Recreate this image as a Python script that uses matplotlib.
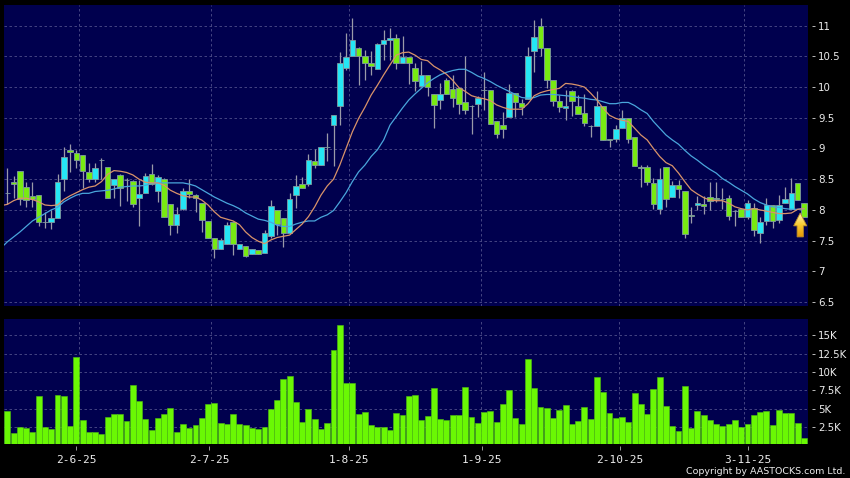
import numpy as np
import matplotlib
matplotlib.use("Agg")
import matplotlib.pyplot as plt
from matplotlib.patches import Polygon

# --- data ---
opens = [8.28, 8.45, 8.64, 8.37, 8.22, 8.25, 7.81, 7.81, 7.87, 8.50,
         8.98, 8.93, 8.90, 8.62, 8.50, 8.81, 8.70, 8.40, 8.57, 8.49,
         8.47, 8.19, 8.28, 8.58, 8.30, 8.50, 8.09, 7.75, 8.02, 8.31,
         8.24, 8.11, 7.82, 7.55, 7.37, 7.45, 7.80, 7.36, 7.42, 7.28,
         7.35, 7.30, 7.575, 8.00, 7.87, 7.63, 8.25, 8.43, 8.43, 8.80,
         8.73, 9.03, 9.39, 9.70, 10.31, 10.51, 10.63, 10.50, 10.39, 10.30,
         10.70, 10.76, 10.80, 10.39, 10.49, 10.31, 10.01, 10.19, 9.88, 9.79,
         10.11, 9.97, 9.99, 9.75, 9.70, 9.73, 9.95, 9.95, 9.44, 9.39,
         9.52, 9.90, 9.74, 9.81, 10.58, 11.00, 10.63, 10.11, 9.77, 9.66,
         9.94, 9.70, 9.57, 9.36, 9.36, 9.70, 9.15, 9.15, 9.33, 9.50,
         9.19, 8.70, 8.70, 8.44, 8.01, 8.70, 8.21, 8.41, 8.30, 7.92,
         8.08, 8.10, 8.21, 8.19, 8.18, 8.20, 7.98, 8.01, 7.88, 8.03,
         7.63, 7.82, 8.08, 7.83, 8.12, 8.01, 8.44, 8.12]
closes = [8.28, 8.43, 8.18, 8.16, 8.18, 7.81, 7.81, 7.86, 8.45, 8.86,
          8.94, 8.82, 8.63, 8.51, 8.69, 8.81, 8.20, 8.50, 8.35, 8.48,
          8.10, 8.26, 8.55, 8.43, 8.54, 7.89, 7.75, 7.94, 8.30, 8.26,
          8.19, 7.83, 7.54, 7.36, 7.51, 7.76, 7.45, 7.45, 7.25, 7.36,
          7.28, 7.63, 8.07, 7.77, 7.63, 8.18, 8.39, 8.35, 8.82, 8.73,
          9.03, 9.03, 9.54, 10.39, 10.49, 10.76, 10.51, 10.40, 10.34, 10.70,
          10.76, 10.80, 10.39, 10.49, 10.40, 10.10, 10.19, 10.00, 9.71, 9.88,
          9.89, 9.83, 9.72, 9.62, 9.69, 9.82, 9.95, 9.40, 9.23, 9.31,
          9.90, 9.76, 9.68, 10.50, 10.82, 10.63, 10.12, 9.77, 9.68, 9.69,
          9.77, 9.57, 9.42, 9.36, 9.70, 9.14, 9.14, 9.32, 9.49, 9.15,
          8.72, 8.69, 8.45, 8.09, 8.51, 8.17, 8.41, 8.34, 7.60, 7.90,
          8.11, 8.06, 8.14, 8.17, 8.17, 7.90, 7.98, 7.88, 8.11, 7.67,
          7.80, 8.08, 7.82, 8.08, 8.17, 8.27, 8.16, 7.89]
highs = [8.68, 8.55, 8.64, 8.46, 8.45, 8.25, 7.97, 8.00, 8.59, 9.03,
         9.08, 8.97, 8.90, 8.76, 8.76, 8.84, 8.70, 8.50, 8.58, 8.52,
         8.48, 8.49, 8.60, 8.74, 8.57, 8.52, 8.09, 8.05, 8.35, 8.51,
         8.26, 8.11, 7.82, 7.55, 7.55, 7.80, 7.80, 7.45, 7.42, 7.36,
         7.35, 7.67, 8.16, 8.00, 7.87, 8.27, 8.57, 8.53, 8.91, 9.00,
         9.03, 9.26, 9.54, 10.57, 10.88, 11.12, 10.66, 10.60, 10.58, 10.71,
         10.93, 10.96, 10.87, 10.83, 10.49, 10.39, 10.42, 10.19, 9.88, 10.06,
         10.14, 10.20, 9.99, 10.50, 9.71, 9.86, 10.24, 9.95, 9.44, 9.60,
         10.05, 9.90, 9.80, 10.65, 11.09, 11.12, 10.63, 10.11, 9.87, 9.95,
         9.95, 9.87, 9.88, 9.38, 9.94, 9.70, 9.16, 9.38, 9.63, 9.50,
         9.19, 8.73, 8.73, 8.52, 8.68, 8.70, 8.47, 8.48, 8.30, 8.05,
         8.22, 8.22, 8.45, 8.45, 8.35, 8.24, 8.00, 8.01, 8.16, 8.11,
         7.89, 8.19, 8.08, 8.24, 8.38, 8.52, 8.44, 8.12]
lows = [8.10, 8.20, 8.08, 8.05, 8.05, 7.73, 7.70, 7.69, 7.87, 8.30,
        8.62, 8.68, 8.35, 8.46, 8.46, 8.51, 8.20, 8.20, 8.06, 8.15,
        8.04, 7.74, 8.28, 8.40, 8.13, 7.89, 7.59, 7.62, 8.00, 8.19,
        7.97, 7.64, 7.54, 7.21, 7.37, 7.45, 7.26, 7.36, 7.24, 7.28,
        7.28, 7.30, 7.54, 7.59, 7.40, 7.63, 8.03, 8.35, 8.39, 8.68,
        8.73, 8.80, 8.72, 9.38, 10.28, 10.51, 10.03, 10.12, 10.20, 10.30,
        10.44, 10.44, 10.30, 10.39, 10.05, 9.93, 10.01, 9.85, 9.34, 9.64,
        9.89, 9.67, 9.57, 9.57, 9.23, 9.52, 9.63, 9.40, 9.17, 9.17,
        9.52, 9.51, 9.55, 9.81, 10.25, 10.50, 9.98, 9.69, 9.60, 9.46,
        9.53, 9.57, 9.36, 9.19, 9.36, 9.14, 9.03, 9.10, 9.33, 9.09,
        8.72, 8.37, 8.41, 8.01, 7.94, 8.05, 8.21, 8.19, 7.54, 7.79,
        8.00, 7.93, 8.00, 8.13, 8.01, 7.84, 7.74, 7.88, 7.85, 7.57,
        7.46, 7.76, 7.71, 7.78, 8.12, 8.01, 8.16, 7.89]
# moving averages, first value sits at the left edge of the plot
ma_short = [8.08, 8.09, 8.15, 8.19, 8.19, 8.17, 8.13, 8.08, 8.07, 8.08, 8.17,
            8.23, 8.28, 8.33, 8.37, 8.39, 8.46, 8.58, 8.64, 8.63, 8.61,
            8.57, 8.50, 8.45, 8.44, 8.44, 8.40, 8.32, 8.27, 8.23, 8.21,
            8.21, 8.16, 8.08, 7.97, 7.88, 7.85, 7.82, 7.76, 7.64, 7.55,
            7.49, 7.45, 7.51, 7.55, 7.57, 7.59, 7.68, 7.77, 7.89, 8.05,
            8.24, 8.39, 8.50, 8.73, 9.00, 9.27, 9.49, 9.67, 9.87, 10.03,
            10.20, 10.36, 10.52, 10.56, 10.57, 10.52, 10.45, 10.43, 10.34, 10.28,
            10.21, 10.11, 9.99, 9.93, 9.86, 9.83, 9.81, 9.78, 9.71, 9.67,
            9.64, 9.64, 9.64, 9.73, 9.86, 9.91, 9.94, 9.96, 9.98, 10.06,
            10.05, 10.03, 10.00, 9.90, 9.79, 9.65, 9.54, 9.49, 9.46, 9.44,
            9.33, 9.22, 9.14, 9.00, 8.87, 8.77, 8.72, 8.60, 8.46, 8.33,
            8.26, 8.20, 8.16, 8.15, 8.15, 8.11, 8.05, 8.02, 8.00, 8.02,
            8.00, 7.98, 7.96, 7.94, 7.94, 7.95, 8.01, 8.02]
ma_long = [7.43, 7.48, 7.56, 7.64, 7.73, 7.82, 7.88, 7.94, 8.00, 8.04, 8.13,
           8.19, 8.24, 8.27, 8.27, 8.30, 8.31, 8.32, 8.34, 8.37, 8.38,
           8.39, 8.39, 8.40, 8.43, 8.44, 8.44, 8.44, 8.44, 8.44, 8.42,
           8.39, 8.33, 8.27, 8.21, 8.16, 8.11, 8.07, 8.02, 7.95, 7.90,
           7.85, 7.83, 7.80, 7.75, 7.73, 7.73, 7.77, 7.80, 7.82, 7.82,
           7.88, 7.92, 7.99, 8.13, 8.28, 8.46, 8.62, 8.73, 8.87, 8.98,
           9.14, 9.38, 9.52, 9.66, 9.79, 9.89, 9.98, 10.07, 10.14, 10.20,
           10.24, 10.27, 10.29, 10.29, 10.24, 10.18, 10.14, 10.09, 10.03, 9.98,
           9.93, 9.88, 9.83, 9.82, 9.83, 9.87, 9.88, 9.88, 9.87, 9.86,
           9.85, 9.83, 9.82, 9.80, 9.79, 9.76, 9.73, 9.73, 9.75, 9.75,
           9.70, 9.63, 9.57, 9.44, 9.33, 9.22, 9.14, 9.07, 8.97, 8.88,
           8.81, 8.73, 8.66, 8.60, 8.51, 8.45, 8.38, 8.32, 8.26, 8.18,
           8.12, 8.08, 8.05, 8.04, 8.02, 8.01, 8.01, 8.02]
volumes = [4.76, 1.68, 2.59, 2.36, 1.91, 6.71, 2.50, 2.23, 6.89, 6.80,
           2.63, 12.05, 3.45, 1.91, 1.91, 1.64, 3.95, 4.26, 4.31, 3.40,
           8.20, 6.08, 3.63, 2.13, 3.72, 4.26, 5.17, 1.91, 3.00, 2.41,
           2.81, 3.77, 5.62, 5.76, 3.04, 2.95, 4.26, 2.90, 2.77, 2.45,
           2.32, 2.59, 4.99, 6.21, 9.06, 9.47, 5.98, 3.18, 4.94, 3.67,
           2.27, 3.04, 13.00, 16.40, 8.57, 8.57, 4.35, 4.54, 2.77, 2.50,
           2.50, 2.13, 4.49, 4.22, 6.71, 6.85, 3.45, 4.04, 7.89, 3.58,
           3.45, 4.22, 4.17, 7.93, 3.90, 3.13, 4.58, 4.72, 3.27, 5.62,
           7.57, 3.72, 2.95, 11.78, 7.84, 5.21, 5.08, 3.72, 4.81, 5.58,
           2.95, 3.31, 5.31, 3.58, 9.34, 7.34, 4.44, 3.77, 3.95, 3.27,
           7.12, 5.67, 4.26, 7.75, 9.34, 5.35, 2.68, 2.05, 8.07, 2.45,
           4.76, 4.13, 3.45, 2.90, 2.63, 2.95, 3.50, 2.54, 2.95, 4.13,
           4.63, 4.67, 2.86, 4.85, 4.44, 4.44, 3.13, 1.05]

price_ticks = [6.5, 7, 7.5, 8, 8.5, 9, 9.5, 10, 10.5, 11]
price_labels = ["6.5", "7", "7.5", "8", "8.5", "9", "9.5", "10", "10.5", "11"]
vol_ticks = [2.5, 5, 7.5, 10, 12.5, 15]
vol_labels = ["2.5K", "5K", "7.5K", "10K", "12.5K", "15K"]
date_ticks = [11, 32.2, 54.4, 75.6, 97.7, 118]
date_labels = ["2-6-25", "2-7-25", "1-8-25", "1-9-25", "2-10-25", "3-11-25"]
date_grid = [11.5, 32.5, 54.5, 75.5, 97.5, 117.5]

# --- styles ---
W, H = 850, 478
NAVY = "#00004e"
GRID = "#50508a"
UP = "#25e6f5"
DOWN = "#78ea12"
EDGE = "#7f9aa0"
TEXT = "#ececec"
BODY_W = 0.88

fig = plt.figure(figsize=(W / 100, H / 100), dpi=100, facecolor="black")
ax = fig.add_axes([4 / W, 1 - 306 / H, 804 / W, 301 / H], facecolor=NAVY)
ax2 = fig.add_axes([4 / W, 1 - 443.5 / H, 804 / W, 124.5 / H], facecolor=NAVY)

xs = np.arange(len(opens))

for a, ticks, labels in [(ax, price_ticks, price_labels), (ax2, vol_ticks, vol_labels)]:
    a.set_xlim(-0.53, 127.64)
    for s in a.spines.values():
        s.set_visible(False)
    a.spines["right"].set_position(("outward", 3))
    a.spines["bottom"].set_position(("outward", 2))
    a.yaxis.tick_right()
    a.set_yticks(ticks)
    a.set_yticklabels(labels, fontsize=7.4, color=TEXT)
    a.tick_params(axis="y", length=2.5, width=0.7, color="#bbbbbb", pad=1.8)
    a.set_axisbelow(True)
    a.grid(axis="y", color=GRID, linestyle=(0, (3, 3)), linewidth=0.6)
    for gx in date_grid:
        a.axvline(gx, color=GRID, linestyle=(0, (3, 3)), linewidth=0.6, zorder=0.5)

# --- candles ---
ax.vlines(xs, lows, highs, color="#9a9aa8", linewidth=0.9, zorder=2)
for i in xs:
    color = UP if closes[i] > opens[i] else DOWN
    ax.bar(i, abs(closes[i] - opens[i]), bottom=min(opens[i], closes[i]), width=BODY_W,
           color=color, edgecolor=EDGE, linewidth=0.6, zorder=3)

# --- moving averages ---
ma_x = np.concatenate(([-0.5], xs))
ax.plot(ma_x, ma_long, color="#4aa6dc", linewidth=0.9, zorder=4)
ax.plot(ma_x, ma_short, color="#d9936a", linewidth=0.9, zorder=4)

ax.set_ylim(6.435, 11.337)
ax.set_xticks([])

# --- yellow arrow under the last candle ---
ax_c, ax_tip, ax_neck, ax_end = 126.4, 7.95, 7.74, 7.56
arrow = Polygon([(ax_c, ax_tip), (ax_c + 1.05, ax_neck), (ax_c + 0.5, ax_neck),
                 (ax_c + 0.5, ax_end), (ax_c - 0.5, ax_end), (ax_c - 0.5, ax_neck),
                 (ax_c - 1.05, ax_neck)], closed=True, transform=ax.transData,
                facecolor="none", edgecolor="#b98a2a", linewidth=0.6, zorder=6)
cmap = matplotlib.colors.LinearSegmentedColormap.from_list("arr", ["#fff4b0", "#f7c92f", "#e59a08"])
img = ax.imshow(np.linspace(0, 1, 32).reshape(-1, 1), cmap=cmap, aspect="auto", zorder=5,
                extent=(ax_c - 1.1, ax_c + 1.1, ax_end, ax_tip))
ax.add_patch(arrow)
img.set_clip_path(arrow)
ax.set_xlim(-0.53, 127.64)
ax.set_ylim(6.435, 11.337)

# --- volume ---
ax2.bar(xs, volumes, width=0.94, color="#6af804", edgecolor="#4fc010", linewidth=0.4, zorder=3)
ax2.set_ylim(0.3, 17.2)
ax2.set_xticks(date_ticks)
ax2.set_xticklabels(date_labels, fontsize=8, color=TEXT, family="DejaVu Sans Mono")
ax2.tick_params(axis="x", length=3, width=0.7, color="#999999", pad=3.5)

fig.text(845 / W, 1 - 471.5 / H, "Copyright by AASTOCKS.com Ltd.", color=TEXT,
         fontsize=6.8, ha="right", va="center")

fig.savefig("out.png", dpi=100, facecolor="black")
